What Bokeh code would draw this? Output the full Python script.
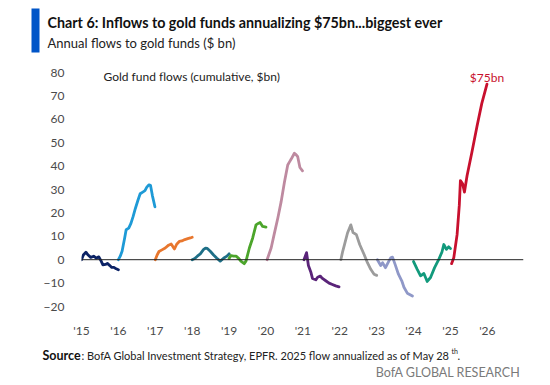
from bokeh.plotting import figure
from bokeh.layouts import column, row
from bokeh.models import Label, BoxAnnotation, Span, FixedTicker, Range1d
from bokeh.embed import file_html
from bokeh.resources import INLINE

# ---- data: cumulative gold fund flows within each calendar year ($bn) ----
years = [2015, 2016, 2017, 2018, 2019, 2020, 2021, 2022, 2023, 2024, 2025]
colors = ["#0B2265", "#1E9AD6", "#E8772E", "#1E6F87", "#4CA52B", "#BE8AA0",
          "#5A2479", "#9C9C9C", "#8F98C8", "#129A7C", "#C8102E"]

t_2015 = [0, 0.05, 0.12, 0.18, 0.25, 0.33, 0.40, 0.47, 0.53, 0.58, 0.65, 0.70, 0.76, 0.82, 0.88, 0.94, 1.0]
v_2015 = [0, 2.0, 3.2, 2.0, 1.0, 1.5, 0.7, 1.2, -0.5, -2.2, -2.0, -1.6, -2.4, -3.3, -3.3, -3.9, -4.3]
t_2016 = [0, 0.05, 0.10, 0.17, 0.21, 0.28, 0.34, 0.40, 0.46, 0.53, 0.59, 0.66, 0.72, 0.77, 0.83, 0.87, 0.92, 0.99]
v_2016 = [0, 1.5, 3.6, 9.3, 12.8, 13.5, 15.5, 18.5, 21.9, 25.4, 28.2, 28.9, 29.5, 31.0, 32.0, 31.8, 27.5, 22.6]
t_2017 = [0, 0.05, 0.10, 0.18, 0.27, 0.36, 0.43, 0.48, 0.52, 0.58, 0.65, 0.72, 0.80, 0.88, 0.95, 1.0]
v_2017 = [0, 2.0, 3.5, 4.2, 5.0, 6.2, 6.7, 5.5, 4.6, 6.6, 7.8, 8.0, 8.6, 9.0, 9.3, 9.6]
t_2018 = [0, 0.07, 0.14, 0.22, 0.31, 0.36, 0.41, 0.49, 0.58, 0.67, 0.76, 0.85, 0.94, 1.0]
v_2018 = [0, 0.5, 1.5, 2.5, 4.4, 4.9, 4.8, 3.6, 2.0, 0.6, -0.6, 0.6, 1.5, 2.5]
t_2019 = [0, 0.05, 0.12, 0.19, 0.26, 0.32, 0.41, 0.46, 0.55, 0.64, 0.73, 0.79, 0.84, 0.91, 1.0]
v_2019 = [0.5, 1.8, 1.5, 1.5, 0.6, -0.6, -1.7, -0.5, 5.0, 9.3, 14.9, 15.5, 15.9, 14.2, 13.9]
t_2020 = [0.03, 0.14, 0.22, 0.32, 0.41, 0.50, 0.59, 0.63, 0.68, 0.77, 0.82, 0.86, 0.92, 0.99]
v_2020 = [0, 5.0, 10.7, 17.7, 24.7, 33.1, 40.5, 41.6, 42.9, 45.5, 44.8, 44.0, 39.4, 38.0]
t_2021 = [0.03, 0.10, 0.15, 0.22, 0.26, 0.35, 0.40, 0.47, 0.53, 0.62, 0.71, 0.80, 0.89, 0.98]
v_2021 = [0, 3.0, -2.5, -5.5, -8.0, -8.6, -7.5, -7.0, -8.0, -9.0, -10.0, -10.6, -11.2, -11.6]
t_2022 = [0.03, 0.08, 0.13, 0.21, 0.30, 0.36, 0.45, 0.54, 0.66, 0.75, 0.84, 0.93, 1.0]
v_2022 = [0, 3.6, 6.5, 11.4, 14.9, 11.6, 10.7, 6.5, 2.2, -1.3, -4.1, -6.2, -6.7]
t_2023 = [0.02, 0.11, 0.16, 0.24, 0.33, 0.38, 0.43, 0.50, 0.59, 0.68, 0.74, 0.83, 0.97]
v_2023 = [0, -2.5, -1.3, -3.4, -0.6, 0.8, 1.1, -2.0, -6.2, -9.0, -11.8, -14.3, -15.5]
t_2024 = [0, 0.10, 0.19, 0.28, 0.37, 0.46, 0.57, 0.68, 0.77, 0.82, 0.89, 0.95, 1.0]
v_2024 = [-0.8, -4.1, -6.9, -5.9, -9.3, -7.6, -3.4, 0.0, 3.3, 6.5, 4.4, 5.5, 4.8]
t_2025 = [0.03, 0.09, 0.18, 0.24, 0.27, 0.33, 0.38, 0.45, 0.58, 0.72, 0.85, 0.99]
v_2025 = [-1.7, 0.8, 10.7, 23.3, 33.8, 32.4, 28.9, 35.9, 45.8, 57.0, 66.8, 75.0]

series_t = [t_2015, t_2016, t_2017, t_2018, t_2019, t_2020, t_2021, t_2022, t_2023, t_2024, t_2025]
series_v = [v_2015, v_2016, v_2017, v_2018, v_2019, v_2020, v_2021, v_2022, v_2023, v_2024, v_2025]

y_ticks = [-20, -10, 0, 10, 20, 30, 40, 50, 60, 70, 80]
x_ticks = list(range(2015, 2027))
x_tick_labels = {y: "'" + str(y)[2:] for y in x_ticks}

FONT = "Lato"
W = 534


def text_panel(h):
    f = figure(width=W, height=h, output_backend="svg", toolbar_location=None,
               x_range=Range1d(0, 1), y_range=Range1d(0, 1),
               x_axis_location=None, y_axis_location=None,
               min_border=0, outline_line_color=None)
    f.grid.visible = False
    return f


# ---- title panel ----
tp = text_panel(60)
tp.add_layout(BoxAnnotation(left=31, right=39, bottom=8, top=52,
                            left_units="screen", right_units="screen",
                            bottom_units="screen", top_units="screen",
                            fill_color="#0055C8", fill_alpha=1, line_color=None))
tp.add_layout(Label(x=47, y=38, x_units="screen", y_units="screen",
                    text="Chart 6: Inflows to gold funds annualizing $75bn...biggest ever",
                    text_font=FONT, text_font_style="bold", text_font_size="14.3px",
                    text_color="#111111", text_baseline="middle"))
tp.add_layout(Label(x=47, y=18, x_units="screen", y_units="screen",
                    text="Annual flows to gold funds ($ bn)", text_font=FONT,
                    text_font_size="13px", text_color="#222222", text_baseline="middle"))

# ---- main chart ----
p = figure(width=W, height=280, output_backend="svg", toolbar_location=None,
           x_range=Range1d(2015, 2026.98), y_range=Range1d(-20, 80),
           min_border_left=81, min_border_right=11, min_border_top=12,
           min_border_bottom=30, outline_line_color=None)
p.grid.visible = False
p.xaxis.ticker = FixedTicker(ticks=x_ticks)
p.xaxis.major_label_overrides = x_tick_labels
p.yaxis.ticker = FixedTicker(ticks=y_ticks)
for ax in (p.xaxis, p.yaxis):
    ax.axis_line_color = None
    ax.major_tick_line_color = None
    ax.minor_tick_line_color = None
    ax.major_label_text_font = FONT
    ax.major_label_text_font_size = "12px"
    ax.major_label_text_color = "#4a4a4a"
p.xaxis.major_label_standoff = 10
p.yaxis.major_label_standoff = 11

p.add_layout(Span(location=0, dimension="width", line_color="#222222", line_width=1))

for yr, c, ts, vs in zip(years, colors, series_t, series_v):
    xs = [yr + t for t in ts]
    p.line(xs, vs, line_color=c, line_width=2.8, line_join="round", line_cap="round")

p.add_layout(Label(x=years[-1] + t_2025[-1], y=v_2025[-1], text="$75bn", text_align="center",
                   text_baseline="bottom", y_offset=-1, text_font=FONT, text_font_size="12px",
                   text_color="#C8102E"))
p.add_layout(Label(x=22, y=230.5, x_units="screen", y_units="screen",
                   text="Gold fund flows (cumulative, $bn)", text_font=FONT,
                   text_font_size="12px", text_color="#222222", text_baseline="middle"))

# ---- source panel ----
sp = text_panel(40)
sp.add_layout(Label(x=42, y=25, x_units="screen", y_units="screen", text="Source",
                    text_font=FONT, text_font_style="bold", text_font_size="12.5px",
                    text_color="#111111", text_baseline="middle"))
sp.add_layout(Label(x=81, y=25, x_units="screen", y_units="screen",
                    text=": BofA Global Investment Strategy, EPFR. 2025 flow annualized as of May 28",
                    text_font=FONT, text_font_size="11px", text_color="#222222",
                    text_baseline="middle"))
sp.add_layout(Label(x=451, y=30, x_units="screen", y_units="screen", text="th",
                    text_font=FONT, text_font_size="7px", text_color="#222222",
                    text_baseline="middle"))
sp.add_layout(Label(x=457, y=25, x_units="screen", y_units="screen", text=".",
                    text_font=FONT, text_font_size="11px", text_color="#222222",
                    text_baseline="middle"))
sp.add_layout(Label(x=520, y=8, x_units="screen", y_units="screen",
                    text="BofA GLOBAL RESEARCH", text_align="right", text_font=FONT,
                    text_font_size="12.5px", text_color="#7a7a7a", text_baseline="middle"))

layout = column(row(tp), p, row(sp), spacing=0)
open("out.html", "w").write(file_html(layout, INLINE))
